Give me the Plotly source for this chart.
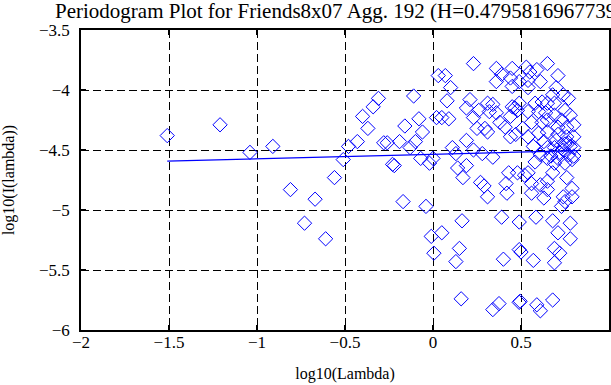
import plotly.graph_objects as go

# Periodogram points: log10(lambda) and log10(I(lambda))
log_lambda = [
    -1.51, -1.21, -1.04, -0.91, -0.81, -0.73, -0.67, -0.61, -0.56, -0.51,
    -0.48, -0.43, -0.40, -0.37, -0.34, -0.31, -0.28, -0.26, -0.23, -0.22,
    -0.19, -0.17, -0.16, -0.13, -0.11, -0.10, -0.08, -0.07, -0.06, -0.04,
    -0.02, -0.01,
    0.005, 0.00, 0.02, 0.03, 0.05, 0.05, 0.07, 0.08, 0.09, 0.10,
    0.11, 0.13, 0.13, 0.14, 0.15, 0.16, 0.165, 0.17, 0.19, 0.19,
    0.19, 0.21, 0.23, 0.23, 0.23, 0.25, 0.26, 0.27, 0.28, 0.29,
    0.295, 0.31, 0.31, 0.31,
    0.32, 0.34, 0.34, 0.34, 0.36, 0.36, 0.36, 0.375, 0.38, 0.39,
    0.39, 0.40, 0.41, 0.42, 0.43, 0.415, 0.44, 0.44, 0.44, 0.45,
    0.45, 0.45, 0.465, 0.47, 0.49, 0.49, 0.50, 0.49, 0.495,
    0.53, 0.55, 0.59, 0.65, 0.61, 0.71, 0.54, 0.54, 0.49, 0.70,
    0.74, 0.77, 0.68, 0.69, 0.65, 0.62, 0.58, 0.49, 0.48, 0.54,
    0.60, 0.64, 0.69, 0.75, 0.78, 0.73, 0.80, 0.76, 0.71, 0.65,
    0.62, 0.56, 0.51, 0.54, 0.60, 0.65, 0.71, 0.76, 0.80, 0.77,
    0.73, 0.69, 0.65, 0.80, 0.61, 0.65, 0.71, 0.77, 0.80, 0.69,
    0.75, 0.48, 0.52, 0.54, 0.56, 0.56, 0.61, 0.65, 0.65, 0.68,
    0.76, 0.79, 0.74, 0.63, 0.75, 0.73, 0.79, 0.585, 0.68, 0.78,
    0.71, 0.78, 0.69, 0.72, 0.69, 0.57, 0.59, 0.61, 0.68,
    0.72, 0.74, 0.78, 0.79, 0.70, 0.63, 0.57, 0.67, 0.75, 0.58,
]
log_periodogram = [
    -4.38, -4.29, -4.52, -4.47, -4.83, -5.11, -4.91, -5.24, -4.73, -4.58,
    -4.47, -4.43, -4.22, -4.32, -4.14, -4.07, -4.44, -4.44, -4.62, -4.63,
    -4.43, -4.93, -4.30, -4.48, -4.05, -4.43, -4.24, -4.57, -4.35, -4.97,
    -4.61, -5.22,
    -5.36, -4.57, -4.23, -3.88, -4.23, -5.19, -3.88, -4.09, -4.24, -3.98,
    -4.48, -4.53, -5.43, -4.65, -5.32, -5.74, -5.09, -4.73, -4.15, -4.42,
    -4.63, -4.08, -3.78, -4.23, -4.50, -4.32, -4.17, -4.77, -4.53, -4.80,
    -4.32, -4.11, -4.89, -4.35,
    -4.18, -4.12, -4.56, -5.83, -3.82, -3.93, -4.19, -5.78, -4.27, -3.87,
    -5.06, -5.41, -4.31, -4.86, -4.69, -4.78, -4.39, -3.90, -4.22, -3.82,
    -3.97, -4.14, -4.15, -4.37, -5.10, -5.33, -5.35, -5.77, -5.76,
    -3.81, -3.85, -3.83, -3.78, -3.93, -3.88, -3.92, -3.98, -3.93, -3.98,
    -4.04, -4.07, -4.04, -4.11, -4.11, -4.10, -4.11, -4.11, -4.17, -4.18,
    -4.18, -4.19, -4.21, -4.17, -4.21, -4.25, -4.29, -4.31, -4.31, -4.25,
    -4.27, -4.27, -4.32, -4.39, -4.36, -4.35, -4.37, -4.39, -4.39, -4.44,
    -4.46, -4.48, -4.48, -4.48, -4.54, -4.57, -4.57, -4.54, -4.55, -4.61,
    -4.61, -4.69, -4.71, -4.69, -4.78, -4.86, -4.79, -4.76, -4.83, -4.69,
    -4.73, -4.82, -4.89, -4.90, -4.93, -4.97, -4.89, -5.06, -5.09, -5.11,
    -5.19, -5.24, -5.32, -5.36, -5.44, -5.42, -5.79, -5.84, -5.75,
    -4.52, -4.50, -4.47, -4.58, -4.42, -4.43, -4.47, -4.55, -4.45, -4.60,
]

# Least-squares fit line end points
fit_x = [-1.51, 0.82]
fit_y = [-4.592, -4.505]

title_text = "Periodogram Plot for Friends8x07 Agg. 192 (H=0.479581696773932)"

fig = go.Figure()
fig.add_trace(go.Scatter(
    x=log_lambda, y=log_periodogram, mode="markers",
    marker=dict(symbol="diamond-open", size=11, color="#0000ff",
                line=dict(width=1, color="#0000ff")),
    showlegend=False, cliponaxis=False,
))
fig.add_trace(go.Scatter(
    x=fit_x, y=fit_y, mode="lines",
    line=dict(color="#0000ff", width=1.2), showlegend=False,
))

font_family = "Liberation Serif"
axis_common = dict(
    showgrid=True, gridcolor="black", gridwidth=1, griddash="8px,4px",
    zeroline=False, showline=True, linecolor="black", linewidth=1.5,
    mirror="allticks", ticks="inside", ticklen=5, tickwidth=1.5,
    tickcolor="black", automargin=False,
    tickfont=dict(family=font_family, size=17, color="black"),
)
fig.update_xaxes(range=[-2, 1], dtick=0.5, tick0=-2, ticklabelstandoff=-4,
                 title=dict(text="log10(Lambda)", standoff=17,
                            font=dict(family=font_family, size=16, color="black")),
                 **axis_common)
fig.update_yaxes(range=[-6, -3.5], dtick=0.5, tick0=-6, ticklabelstandoff=6,
                 title=dict(text="log10(I(lambda))", standoff=20,
                            font=dict(family=font_family, size=16, color="black")),
                 **axis_common)
fig.update_layout(
    width=611, height=385,
    margin=dict(l=81, r=2, t=30, b=55),
    paper_bgcolor="white", plot_bgcolor="white",
    title=dict(text=title_text, x=55 / 611, xref="container", xanchor="left",
               y=1 - 11 / 385, yanchor="middle", pad=dict(t=0, l=0, b=0, r=0),
               font=dict(family=font_family, size=21, color="black")),
    font=dict(family=font_family, color="black"),
)
fig.write_html("out.html", config={"displayModeBar": False},
               post_script="document.body.style.margin='0';document.body.style.overflow='hidden';")
